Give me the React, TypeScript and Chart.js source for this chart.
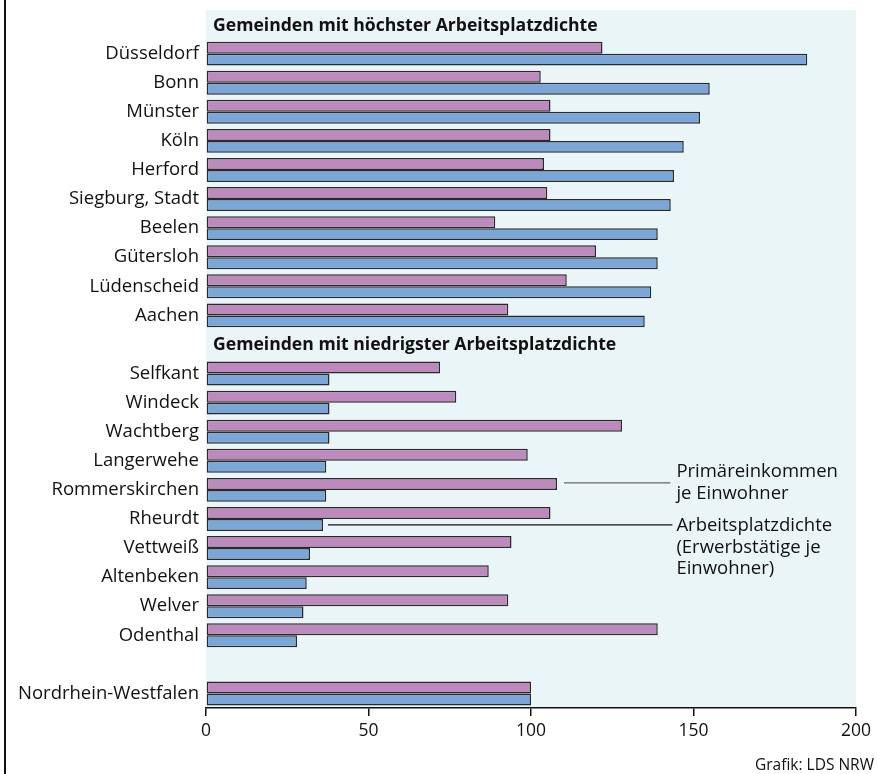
import React, { useEffect, useRef } from "react";
import { Chart, registerables } from "chart.js";

Chart.register(...registerables);

// Category rows (empty strings are header / spacer rows)
const categories: string[] = [
  "",
  "Düsseldorf",
  "Bonn",
  "Münster",
  "Köln",
  "Herford",
  "Siegburg, Stadt",
  "Beelen",
  "Gütersloh",
  "Lüdenscheid",
  "Aachen",
  "",
  "Selfkant",
  "Windeck",
  "Wachtberg",
  "Langerwehe",
  "Rommerskirchen",
  "Rheurdt",
  "Vettweiß",
  "Altenbeken",
  "Welver",
  "Odenthal",
  "",
  "Nordrhein-Westfalen",
];

// Primäreinkommen je Einwohner (index)
const primaereinkommen: (number | null)[] = [
  null, 122, 103, 106, 106, 104, 105, 89, 120, 111, 93,
  null, 72, 77, 128, 99, 108, 106, 94, 87, 93, 139,
  null, 100,
];

// Arbeitsplatzdichte (index)
const arbeitsplatzdichte: (number | null)[] = [
  null, 185, 155, 152, 147, 144, 143, 139, 139, 137, 135,
  null, 38, 38, 38, 37, 37, 36, 32, 31, 30, 28,
  null, 100,
];

const groupHeaders: { row: number; text: string }[] = [
  { row: 0, text: "Gemeinden mit höchster Arbeitsplatzdichte" },
  { row: 11, text: "Gemeinden mit niedrigster Arbeitsplatzdichte" },
];

const xTicks: number[] = [0, 50, 100, 150, 200];

const legendPrimaer: string[] = ["Primäreinkommen", "je Einwohner"];
const legendArbeit: string[] = ["Arbeitsplatzdichte", "(Erwerbstätige je", "Einwohner)"];
const legendPrimaerRow = 16; // Rommerskirchen
const legendArbeitRow = 17; // Rheurdt
const source = "Grafik: LDS NRW";

const FONT = "'Open Sans', 'Noto Sans', sans-serif";
const PURPLE = "#BE8ABE";
const BLUE = "#7BA7D8";
const BG = "#EAF5F7";

const overlayPlugin = {
  id: "overlay",
  beforeDraw(chart: any) {
    const { ctx, chartArea } = chart;
    ctx.save();
    ctx.fillStyle = "#ffffff";
    ctx.fillRect(0, 0, chart.width, chart.height);
    ctx.fillStyle = BG;
    ctx.fillRect(chartArea.left, chartArea.top, chartArea.right - chartArea.left, chartArea.bottom - chartArea.top);
    // left frame line
    ctx.fillStyle = "#111";
    ctx.fillRect(4, 0, 2, chart.height);
    ctx.restore();
  },
  afterDraw(chart: any) {
    const { ctx, chartArea } = chart;
    const y = chart.scales.y;
    const x = chart.scales.x;
    ctx.save();
    // group headers
    ctx.fillStyle = "#111";
    ctx.font = `bold 17.6px ${FONT}`;
    ctx.textBaseline = "middle";
    ctx.textAlign = "left";
    groupHeaders.forEach((h) => {
      ctx.fillText(h.text, chartArea.left + 7, y.getPixelForValue(h.row) + 1);
    });

    // annotation lines
    const m0 = chart.getDatasetMeta(0).data[legendPrimaerRow];
    const m1 = chart.getDatasetMeta(1).data[legendArbeitRow];
    const lineEnd = x.getPixelForValue(143.5);
    const textX = lineEnd + 4;
    ctx.lineWidth = 1.2;
    ctx.strokeStyle = "#666";
    ctx.beginPath();
    ctx.moveTo(m0.x + 7, m0.y - 1);
    ctx.lineTo(lineEnd - 2, m0.y - 1);
    ctx.stroke();
    ctx.strokeStyle = "#111";
    ctx.beginPath();
    ctx.moveTo(m1.x + 5, m1.y);
    ctx.lineTo(lineEnd, m1.y);
    ctx.stroke();

    ctx.font = `18.5px ${FONT}`;
    ctx.fillStyle = "#111";
    const lh = 21.5;
    legendPrimaer.forEach((t, i) => {
      ctx.fillText(t, textX, m0.y - 1 - lh / 2 + i * lh);
    });
    legendArbeit.forEach((t, i) => {
      ctx.fillText(t, textX, m1.y + 1 + i * lh);
    });

    // source
    ctx.font = `15.5px ${FONT}`;
    ctx.textAlign = "right";
    ctx.fillText(source, chart.width - 3, 766);
    ctx.restore();
  },
};

export default function App() {
  const ref = useRef<HTMLCanvasElement | null>(null);
  useEffect(() => {
    document.body.style.margin = "0";
    if (!ref.current) return;
    Chart.defaults.font.family = FONT;
    const chart = new Chart(ref.current, {
      type: "bar",
      data: {
        labels: categories,
        datasets: [
          {
            label: "Primäreinkommen je Einwohner",
            data: primaereinkommen,
            backgroundColor: PURPLE,
            borderColor: "#2a2a2a",
            borderWidth: 1.5,
            borderSkipped: false,
            barPercentage: 1,
            categoryPercentage: 0.82,
          },
          {
            label: "Arbeitsplatzdichte (Erwerbstätige je Einwohner)",
            data: arbeitsplatzdichte,
            backgroundColor: BLUE,
            borderColor: "#2a2a2a",
            borderWidth: 1.5,
            borderSkipped: false,
            barPercentage: 1,
            categoryPercentage: 0.82,
          },
        ],
      },
      options: {
        indexAxis: "y",
        responsive: false,
        animation: false,
        layout: { padding: { top: 10, right: 21, bottom: 0, left: 0 } },
        plugins: {
          legend: { display: false },
          tooltip: { enabled: false },
          title: { display: false },
        },
        scales: {
          x: {
            type: "linear",
            min: 0,
            max: 200,
            afterBuildTicks: (scale: any) => {
              scale.ticks = xTicks.map((v) => ({ value: v }));
            },
            afterFit: (scale: any) => {
              scale.height = 66;
              scale.paddingLeft = 0;
              scale.paddingRight = 0;
            },
            grid: {
              drawOnChartArea: false,
              drawTicks: true,
              tickLength: 8,
              color: "#111",
              lineWidth: 1.5,
            },
            border: { display: true, color: "#111", width: 1.5 },
            ticks: {
              color: "#111",
              font: { size: 17.5, family: FONT },
              padding: 5,
              maxRotation: 0,
            },
          },
          y: {
            type: "category",
            afterFit: (scale: any) => {
              scale.width = 206;
              scale.paddingTop = 0;
              scale.paddingBottom = 0;
            },
            grid: { display: false, drawTicks: false },
            border: { display: false },
            ticks: {
              color: "#111",
              font: { size: 18.5, family: FONT },
              padding: 7,
              autoSkip: false,
            },
          },
        },
      },
      plugins: [overlayPlugin],
    } as any);
    return () => chart.destroy();
  }, []);
  return <canvas ref={ref} width={877} height={774} style={{ display: "block" }} />;
}
